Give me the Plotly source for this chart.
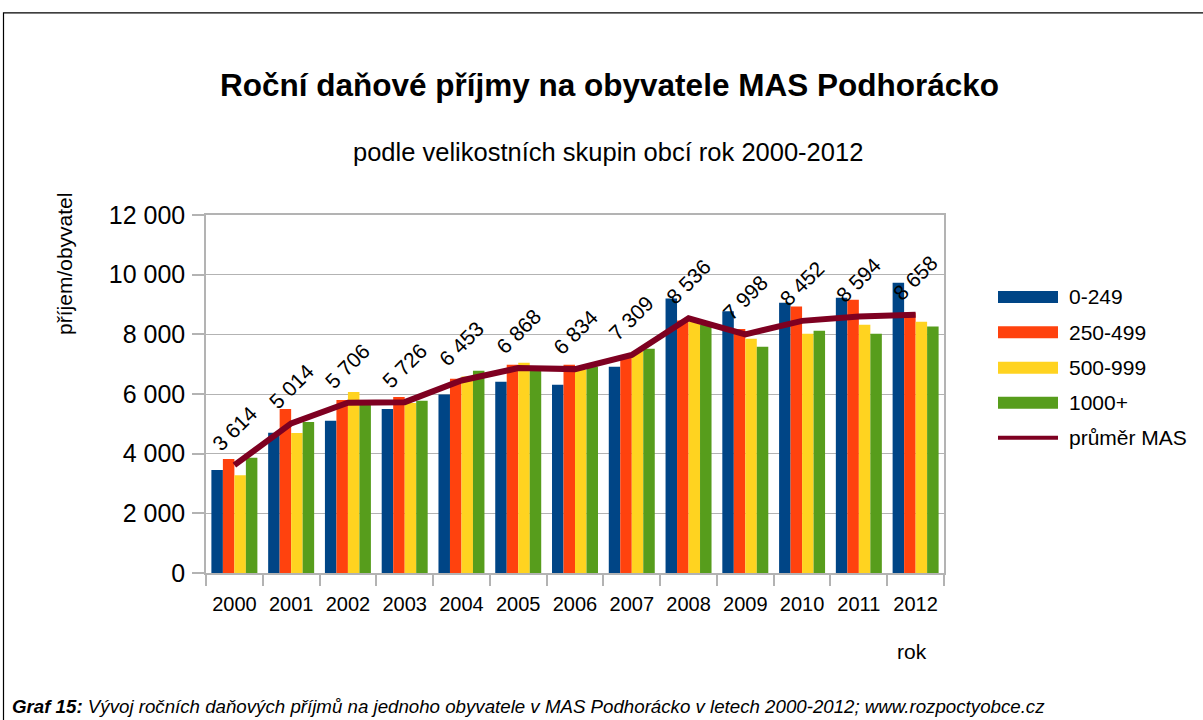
import plotly.graph_objects as go

years = ["2000", "2001", "2002", "2003", "2004", "2005", "2006",
         "2007", "2008", "2009", "2010", "2011", "2012"]
s_0_249 = [3450, 4700, 5100, 5500, 5980, 6410, 6310, 6910, 9200, 8770, 9060, 9230, 9730]
s_250_499 = [3820, 5500, 5800, 5900, 6510, 6980, 6980, 7210, 8460, 8180, 8930, 9160, 8720]
s_500_999 = [3280, 4690, 6070, 5700, 6590, 7050, 6810, 7430, 8430, 7850, 8020, 8320, 8420]
s_1000 = [3860, 5060, 5650, 5770, 6780, 6790, 6920, 7520, 8320, 7580, 8120, 8020, 8260]
prumer = [3614, 5014, 5706, 5726, 6453, 6868, 6834, 7309, 8536, 7998, 8452, 8594, 8658]

series_names = ["0-249", "250-499", "500-999", "1000+"]
series_vals = [s_0_249, s_250_499, s_500_999, s_1000]
colors = ["#004586", "#ff420e", "#ffd320", "#579d1c"]
line_name = "průměr MAS"
line_color = "#7e0021"

W, H = 1203, 720
L, R, T, B = 206, 944, 215, 573.5


def px(x):
    return (x - L) / (R - L)


def py(y):
    return (B - y) / (B - T)


FONT = "Liberation Sans, Arial, sans-serif"

fig = go.Figure()
for name, vals, c in zip(series_names, series_vals, colors):
    fig.add_trace(go.Bar(x=years, y=vals, name=name, marker=dict(color=c, line=dict(width=0))))
fig.add_trace(go.Scatter(x=years, y=prumer, name=line_name, mode="lines",
                         line=dict(color=line_color, width=6)))

annotations = []
for i, v in enumerate(prumer):
    annotations.append(dict(x=i, y=v, xref="x", yref="y", text=f"{v:,}".replace(",", " "),
                            showarrow=False, textangle=-45, yshift=37,
                            xanchor="center", yanchor="middle",
                            font=dict(size=21, color="black", family=FONT)))


def note(x, y, text, size, xanchor="center", angle=0, family=FONT):
    return dict(x=px(x), y=py(y), xref="paper", yref="paper", showarrow=False,
                xanchor=xanchor, yanchor="middle", textangle=angle, text=text,
                font=dict(size=size, color="black", family=family))


annotations += [
    note(609, 85, "<b>Roční daňové příjmy na obyvatele MAS Podhorácko</b>", 31.5),
    note(608, 152, "podle velikostních skupin obcí rok 2000-2012", 25.5),
    note(65, 264, "příjem/obyvatel", 21, angle=-90),
    note(912, 652, "rok", 21),
    note(10, 707, "<b><i>Graf 15:</i></b><i> Vývoj ročních daňových příjmů na jednoho obyvatele v MAS Podhorácko v letech 2000-2012; www.rozpoctyobce.cz</i>",
         18.7, xanchor="left", family="Liberation Sans Narrow, Arial Narrow, " + FONT),
]

shapes = [
    dict(type="rect", xref="paper", yref="paper", x0=px(3.5), x1=px(1210), y0=py(740), y1=py(12.5),
         line=dict(color="black", width=1.2), fillcolor="rgba(0,0,0,0)", layer="above"),
]

# custom legend
leg_rows = [297, 332.5, 368, 403, 438]
for i, (name, c) in enumerate(zip(series_names, colors)):
    yc = leg_rows[i]
    shapes.append(dict(type="rect", xref="paper", yref="paper", x0=px(998), x1=px(1058),
                       y0=py(yc + 6), y1=py(yc - 6), fillcolor=c, line=dict(width=0)))
    annotations.append(note(1067, yc, name, 21, xanchor="left"))
yc = leg_rows[4]
shapes.append(dict(type="line", xref="paper", yref="paper", x0=px(998), x1=px(1058),
                   y0=py(yc), y1=py(yc), line=dict(color=line_color, width=4)))
annotations.append(note(1067, yc, line_name, 21, xanchor="left"))

fig.update_layout(
    width=W, height=H,
    margin=dict(l=L, r=W - R, t=T, b=H - B, pad=0),
    paper_bgcolor="white", plot_bgcolor="white",
    barmode="group", bargap=0.19, bargroupgap=0,
    showlegend=False,
    separators=", ",
    font=dict(family=FONT, color="black"),
    annotations=annotations,
    shapes=shapes,
)
fig.update_xaxes(type="category", range=[-0.5, len(years) - 0.5], autorange=False,
                 showline=True, linecolor="#b3b3b3", linewidth=1.5, mirror=True,
                 ticks="outside", tickson="boundaries", ticklen=11, tickcolor="#b3b3b3", tickwidth=1.5,
                 ticklabelstandoff=12,
                 showgrid=False, tickangle=0, tickfont=dict(size=20, color="black"))
fig.update_yaxes(range=[0, 12000], dtick=2000, tickformat=",.0f", showline=True, linecolor="#b3b3b3",
                 linewidth=1.5, mirror=True, ticks="outside", ticklen=12, tickcolor="#b3b3b3", tickwidth=1.5,
                 ticklabelstandoff=2,
                 showgrid=True, gridcolor="#b3b3b3", gridwidth=1, zeroline=False,
                 tickfont=dict(size=25, color="black"))

fig.write_html("out.html", config={"displayModeBar": False},
               post_script="document.body.style.margin='0';document.body.style.overflow='hidden';")
